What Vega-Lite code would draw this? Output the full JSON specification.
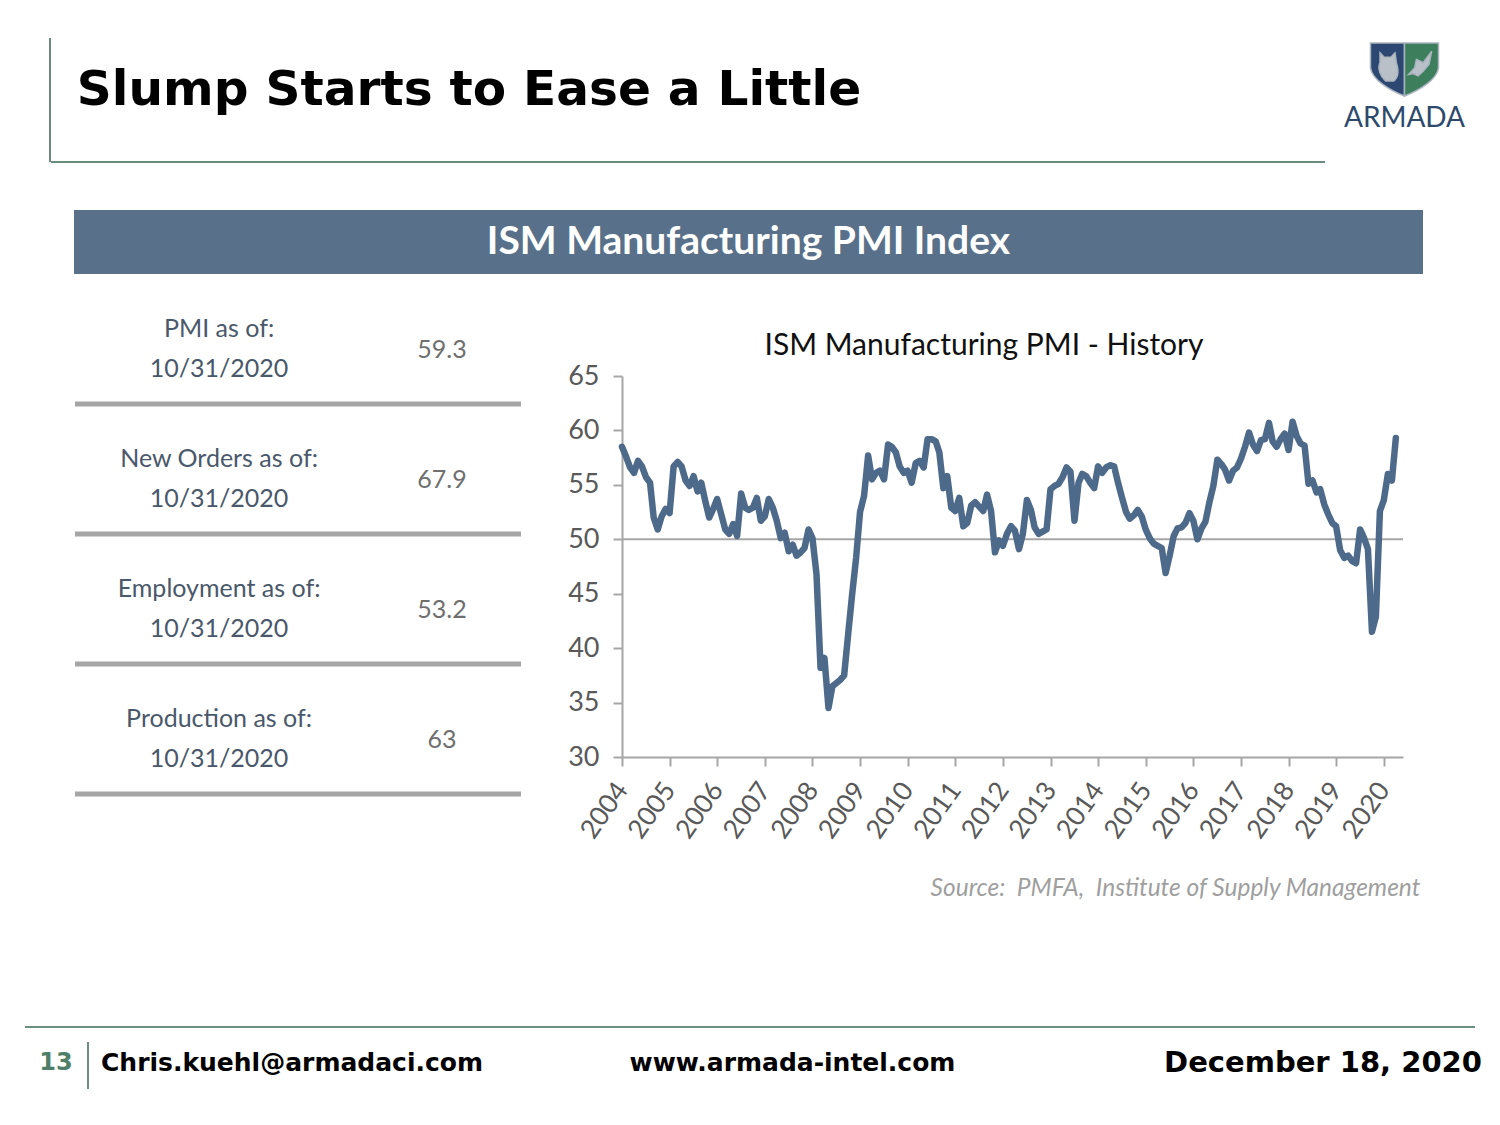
{
  "$schema": "https://vega.github.io/schema/vega-lite/v6.json",
  "background": "white",
  "padding": 0,
  "spacing": 0,
  "config": {"view": {"stroke": null}, "concat": {"spacing": 0}, "font": "Lato"},
  "datasets": {
    "table": [
      {"row": 1, "label": "PMI as of:", "asof": "10/31/2020", "value": "59.3"},
      {"row": 2, "label": "New Orders as of:", "asof": "10/31/2020", "value": "67.9"},
      {"row": 3, "label": "Employment as of:", "asof": "10/31/2020", "value": "53.2"},
      {"row": 4, "label": "Production as of:", "asof": "10/31/2020", "value": "63"}
    ],
    "pmi": [
      {"date": "2004-07-01", "pmi": 58.5}, {"date": "2004-08-01", "pmi": 57.6}, {"date": "2004-09-01", "pmi": 56.6}, {"date": "2004-10-01", "pmi": 56.1}, {"date": "2004-11-01", "pmi": 57.2}, {"date": "2004-12-01", "pmi": 56.7},
      {"date": "2005-01-01", "pmi": 55.7}, {"date": "2005-02-01", "pmi": 55.2}, {"date": "2005-03-01", "pmi": 52.0}, {"date": "2005-04-01", "pmi": 50.9}, {"date": "2005-05-01", "pmi": 52.1}, {"date": "2005-06-01", "pmi": 52.8}, {"date": "2005-07-01", "pmi": 52.4}, {"date": "2005-08-01", "pmi": 56.7}, {"date": "2005-09-01", "pmi": 57.1}, {"date": "2005-10-01", "pmi": 56.7}, {"date": "2005-11-01", "pmi": 55.4}, {"date": "2005-12-01", "pmi": 54.9},
      {"date": "2006-01-01", "pmi": 55.8}, {"date": "2006-02-01", "pmi": 54.4}, {"date": "2006-03-01", "pmi": 55.2}, {"date": "2006-04-01", "pmi": 53.5}, {"date": "2006-05-01", "pmi": 52.0}, {"date": "2006-06-01", "pmi": 52.8}, {"date": "2006-07-01", "pmi": 53.7}, {"date": "2006-08-01", "pmi": 52.3}, {"date": "2006-09-01", "pmi": 50.9}, {"date": "2006-10-01", "pmi": 50.5}, {"date": "2006-11-01", "pmi": 51.4}, {"date": "2006-12-01", "pmi": 50.3},
      {"date": "2007-01-01", "pmi": 54.2}, {"date": "2007-02-01", "pmi": 52.9}, {"date": "2007-03-01", "pmi": 52.7}, {"date": "2007-04-01", "pmi": 52.9}, {"date": "2007-05-01", "pmi": 53.8}, {"date": "2007-06-01", "pmi": 51.7}, {"date": "2007-07-01", "pmi": 52.1}, {"date": "2007-08-01", "pmi": 53.7}, {"date": "2007-09-01", "pmi": 52.9}, {"date": "2007-10-01", "pmi": 51.7}, {"date": "2007-11-01", "pmi": 50.1}, {"date": "2007-12-01", "pmi": 50.6},
      {"date": "2008-01-01", "pmi": 48.9}, {"date": "2008-02-01", "pmi": 49.5}, {"date": "2008-03-01", "pmi": 48.5}, {"date": "2008-04-01", "pmi": 48.8}, {"date": "2008-05-01", "pmi": 49.2}, {"date": "2008-06-01", "pmi": 50.9}, {"date": "2008-07-01", "pmi": 50.1}, {"date": "2008-08-01", "pmi": 46.8}, {"date": "2008-09-01", "pmi": 38.2}, {"date": "2008-10-01", "pmi": 39.1}, {"date": "2008-11-01", "pmi": 34.5}, {"date": "2008-12-01", "pmi": 36.5},
      {"date": "2009-01-01", "pmi": 36.8}, {"date": "2009-02-01", "pmi": 37.1}, {"date": "2009-03-01", "pmi": 37.5}, {"date": "2009-04-01", "pmi": 41.3}, {"date": "2009-05-01", "pmi": 44.9}, {"date": "2009-06-01", "pmi": 48.3}, {"date": "2009-07-01", "pmi": 52.5}, {"date": "2009-08-01", "pmi": 54.0}, {"date": "2009-09-01", "pmi": 57.7}, {"date": "2009-10-01", "pmi": 55.5}, {"date": "2009-11-01", "pmi": 56.1}, {"date": "2009-12-01", "pmi": 56.3},
      {"date": "2010-01-01", "pmi": 55.5}, {"date": "2010-02-01", "pmi": 58.7}, {"date": "2010-03-01", "pmi": 58.5}, {"date": "2010-04-01", "pmi": 58.0}, {"date": "2010-05-01", "pmi": 56.7}, {"date": "2010-06-01", "pmi": 56.1}, {"date": "2010-07-01", "pmi": 56.3}, {"date": "2010-08-01", "pmi": 55.2}, {"date": "2010-09-01", "pmi": 57.0}, {"date": "2010-10-01", "pmi": 57.2}, {"date": "2010-11-01", "pmi": 56.6}, {"date": "2010-12-01", "pmi": 59.2},
      {"date": "2011-01-01", "pmi": 59.2}, {"date": "2011-02-01", "pmi": 59.0}, {"date": "2011-03-01", "pmi": 58.0}, {"date": "2011-04-01", "pmi": 54.7}, {"date": "2011-05-01", "pmi": 55.8}, {"date": "2011-06-01", "pmi": 52.9}, {"date": "2011-07-01", "pmi": 52.6}, {"date": "2011-08-01", "pmi": 53.8}, {"date": "2011-09-01", "pmi": 51.2}, {"date": "2011-10-01", "pmi": 51.5}, {"date": "2011-11-01", "pmi": 53.1}, {"date": "2011-12-01", "pmi": 53.4},
      {"date": "2012-01-01", "pmi": 53.0}, {"date": "2012-02-01", "pmi": 52.6}, {"date": "2012-03-01", "pmi": 54.1}, {"date": "2012-04-01", "pmi": 52.6}, {"date": "2012-05-01", "pmi": 48.8}, {"date": "2012-06-01", "pmi": 49.9}, {"date": "2012-07-01", "pmi": 49.4}, {"date": "2012-08-01", "pmi": 50.5}, {"date": "2012-09-01", "pmi": 51.2}, {"date": "2012-10-01", "pmi": 50.8}, {"date": "2012-11-01", "pmi": 49.1}, {"date": "2012-12-01", "pmi": 50.5},
      {"date": "2013-01-01", "pmi": 53.6}, {"date": "2013-02-01", "pmi": 52.7}, {"date": "2013-03-01", "pmi": 51.1}, {"date": "2013-04-01", "pmi": 50.5}, {"date": "2013-05-01", "pmi": 50.7}, {"date": "2013-06-01", "pmi": 50.9}, {"date": "2013-07-01", "pmi": 54.6}, {"date": "2013-08-01", "pmi": 54.9}, {"date": "2013-09-01", "pmi": 55.1}, {"date": "2013-10-01", "pmi": 55.7}, {"date": "2013-11-01", "pmi": 56.6}, {"date": "2013-12-01", "pmi": 56.2},
      {"date": "2014-01-01", "pmi": 51.7}, {"date": "2014-02-01", "pmi": 55.2}, {"date": "2014-03-01", "pmi": 56.0}, {"date": "2014-04-01", "pmi": 55.8}, {"date": "2014-05-01", "pmi": 55.2}, {"date": "2014-06-01", "pmi": 54.7}, {"date": "2014-07-01", "pmi": 56.7}, {"date": "2014-08-01", "pmi": 56.1}, {"date": "2014-09-01", "pmi": 56.6}, {"date": "2014-10-01", "pmi": 56.8}, {"date": "2014-11-01", "pmi": 56.7}, {"date": "2014-12-01", "pmi": 55.2},
      {"date": "2015-01-01", "pmi": 53.8}, {"date": "2015-02-01", "pmi": 52.5}, {"date": "2015-03-01", "pmi": 51.9}, {"date": "2015-04-01", "pmi": 52.2}, {"date": "2015-05-01", "pmi": 52.7}, {"date": "2015-06-01", "pmi": 52.1}, {"date": "2015-07-01", "pmi": 50.9}, {"date": "2015-08-01", "pmi": 50.1}, {"date": "2015-09-01", "pmi": 49.6}, {"date": "2015-10-01", "pmi": 49.4}, {"date": "2015-11-01", "pmi": 49.2}, {"date": "2015-12-01", "pmi": 46.9},
      {"date": "2016-01-01", "pmi": 48.5}, {"date": "2016-02-01", "pmi": 50.3}, {"date": "2016-03-01", "pmi": 51.0}, {"date": "2016-04-01", "pmi": 51.1}, {"date": "2016-05-01", "pmi": 51.5}, {"date": "2016-06-01", "pmi": 52.4}, {"date": "2016-07-01", "pmi": 51.7}, {"date": "2016-08-01", "pmi": 50.0}, {"date": "2016-09-01", "pmi": 51.0}, {"date": "2016-10-01", "pmi": 51.6}, {"date": "2016-11-01", "pmi": 53.4}, {"date": "2016-12-01", "pmi": 54.9},
      {"date": "2017-01-01", "pmi": 57.3}, {"date": "2017-02-01", "pmi": 56.9}, {"date": "2017-03-01", "pmi": 56.4}, {"date": "2017-04-01", "pmi": 55.4}, {"date": "2017-05-01", "pmi": 56.3}, {"date": "2017-06-01", "pmi": 56.6}, {"date": "2017-07-01", "pmi": 57.4}, {"date": "2017-08-01", "pmi": 58.5}, {"date": "2017-09-01", "pmi": 59.8}, {"date": "2017-10-01", "pmi": 58.7}, {"date": "2017-11-01", "pmi": 58.1}, {"date": "2017-12-01", "pmi": 59.1},
      {"date": "2018-01-01", "pmi": 59.2}, {"date": "2018-02-01", "pmi": 60.7}, {"date": "2018-03-01", "pmi": 59.0}, {"date": "2018-04-01", "pmi": 58.5}, {"date": "2018-05-01", "pmi": 59.2}, {"date": "2018-06-01", "pmi": 59.7}, {"date": "2018-07-01", "pmi": 58.2}, {"date": "2018-08-01", "pmi": 60.8}, {"date": "2018-09-01", "pmi": 59.5}, {"date": "2018-10-01", "pmi": 58.8}, {"date": "2018-11-01", "pmi": 58.6}, {"date": "2018-12-01", "pmi": 55.1},
      {"date": "2019-01-01", "pmi": 55.4}, {"date": "2019-02-01", "pmi": 54.3}, {"date": "2019-03-01", "pmi": 54.6}, {"date": "2019-04-01", "pmi": 53.2}, {"date": "2019-05-01", "pmi": 52.3}, {"date": "2019-06-01", "pmi": 51.5}, {"date": "2019-07-01", "pmi": 51.2}, {"date": "2019-08-01", "pmi": 49.0}, {"date": "2019-09-01", "pmi": 48.3}, {"date": "2019-10-01", "pmi": 48.5}, {"date": "2019-11-01", "pmi": 48.0}, {"date": "2019-12-01", "pmi": 47.8},
      {"date": "2020-01-01", "pmi": 50.9}, {"date": "2020-02-01", "pmi": 50.1}, {"date": "2020-03-01", "pmi": 49.1}, {"date": "2020-04-01", "pmi": 41.5}, {"date": "2020-05-01", "pmi": 42.9}, {"date": "2020-06-01", "pmi": 52.6}, {"date": "2020-07-01", "pmi": 53.6}, {"date": "2020-08-01", "pmi": 56.0}, {"date": "2020-09-01", "pmi": 55.4}, {"date": "2020-10-01", "pmi": 59.3}
    ]
  },
  "vconcat": [
    {
      "hconcat": [
        {"width": 49, "height": 1, "data": {"values": [{}]}, "mark": {"type": "point", "opacity": 0, "size": 0, "filled": true, "strokeWidth": 0}},
        {
          "vconcat": [
            {"width": 2, "height": 38, "data": {"values": [{}]}, "mark": {"type": "point", "opacity": 0, "size": 0, "filled": true, "strokeWidth": 0}},
            {"width": 2, "height": 124, "data": {"values": [{}]}, "mark": {"type": "point", "opacity": 0, "size": 0, "filled": true, "strokeWidth": 0}, "view": {"fill": "#6b8c7c"}}
          ]
        },
        {
          "vconcat": [
            {"width": 1, "height": 66, "data": {"values": [{}]}, "mark": {"type": "point", "opacity": 0, "size": 0, "filled": true, "strokeWidth": 0}},
            {"width": 836, "height": 48, "data": {"values": [{"t": "Slump Starts to Ease a Little"}]}, "mark": {"type": "text", "font": "DejaVu Sans", "fontWeight": "bold", "fontSize": 48.6, "color": "#000000"}, "encoding": {"text": {"field": "t"}}},
            {"width": 1, "height": 46, "data": {"values": [{}]}, "mark": {"type": "point", "opacity": 0, "size": 0, "filled": true, "strokeWidth": 0}},
            {"width": 1274, "height": 2, "data": {"values": [{}]}, "mark": {"type": "point", "opacity": 0, "size": 0, "filled": true, "strokeWidth": 0}, "view": {"fill": "#6b8c7c"}}
          ]
        },
        {"width": 18, "height": 1, "data": {"values": [{}]}, "mark": {"type": "point", "opacity": 0, "size": 0, "filled": true, "strokeWidth": 0}},
        {
          "vconcat": [
            {"width": 1, "height": 39, "data": {"values": [{}]}, "mark": {"type": "point", "opacity": 0, "size": 0, "filled": true, "strokeWidth": 0}},
            {
              "width": 123, "height": 53,
              "data": {"values": [{"part": "L"}, {"part": "R"}, {"part": "owl"}, {"part": "eagle"}]},
              "mark": {"type": "point", "filled": true, "opacity": 1, "size": 4624, "stroke": "#aab4be", "strokeWidth": 1.5},
              "encoding": {
                "shape": {"field": "part", "type": "nominal", "legend": null, "scale": {"domain": ["L", "R", "owl", "eagle"], "range": [
                  "M -1 -0.78 L 0 -0.78 L 0 0.78 C -0.45 0.6 -0.95 0.3 -1 -0.05 Z",
                  "M 1 -0.78 L 0 -0.78 L 0 0.78 C 0.45 0.6 0.95 0.3 1 -0.05 Z",
                  "M -0.72 -0.49 L -0.6 -0.36 L -0.4 -0.36 L -0.28 -0.49 L -0.24 -0.2 C -0.16 0.05 -0.2 0.25 -0.32 0.34 L -0.55 0.34 C -0.72 0.2 -0.8 -0.05 -0.72 -0.2 Z",
                  "M 0.12 0.15 L 0.3 -0.05 L 0.35 -0.3 L 0.55 -0.2 L 0.8 -0.54 L 0.72 -0.15 L 0.55 0.05 L 0.4 0.19 L 0.25 0.12 Z"
                ]}},
                "fill": {"field": "part", "type": "nominal", "legend": null, "scale": {"domain": ["L", "R", "owl", "eagle"], "range": ["#2c4872", "#3d7e5c", "#b9c0c8", "#b9c0c8"]}}
              }
            },
            {"width": 1, "height": 2, "data": {"values": [{}]}, "mark": {"type": "point", "opacity": 0, "size": 0, "filled": true, "strokeWidth": 0}},
            {"width": 123, "height": 34, "data": {"values": [{"t": "ARMADA"}]}, "mark": {"type": "text", "font": "Lato", "fontSize": 28, "color": "#2d4a6d"}, "encoding": {"text": {"field": "t"}}}
          ]
        }
      ]
    },
    {"width": 1, "height": 47, "data": {"values": [{}]}, "mark": {"type": "point", "opacity": 0, "size": 0, "filled": true, "strokeWidth": 0}},
    {
      "hconcat": [
        {"width": 74, "height": 1, "data": {"values": [{}]}, "mark": {"type": "point", "opacity": 0, "size": 0, "filled": true, "strokeWidth": 0}},
        {"width": 1349, "height": 64, "view": {"fill": "#587089"}, "data": {"values": [{"t": "ISM Manufacturing PMI Index"}]}, "mark": {"type": "text", "font": "Lato", "fontSize": 39, "fontWeight": "bold", "color": "#ffffff"}, "encoding": {"text": {"field": "t"}}}
      ]
    },
    {
      "hconcat": [
        {"width": 71.5, "height": 1, "data": {"values": [{}]}, "mark": {"type": "point", "opacity": 0, "size": 0, "filled": true, "strokeWidth": 0}},
        {
          "width": 446, "height": 520,
          "data": {"name": "table"},
          "layer": [
            {"mark": {"type": "text", "font": "Lato", "fontSize": 25, "color": "#4a586b"}, "encoding": {"x": {"datum": "label", "type": "nominal", "axis": null, "scale": {"type": "point", "domain": ["label", "value"], "padding": 0.5, "align": 0.646}}, "y": {"field": "row", "type": "ordinal", "bandPosition": 0.423, "axis": null, "scale": {"type": "band", "paddingInner": 0, "paddingOuter": 0}}, "text": {"field": "label"}}},
            {"mark": {"type": "text", "font": "Lato", "fontSize": 25, "color": "#4a586b"}, "encoding": {"x": {"datum": "label", "type": "nominal", "axis": null}, "y": {"field": "row", "type": "ordinal", "bandPosition": 0.731, "axis": null}, "text": {"field": "asof"}}},
            {"mark": {"type": "text", "font": "Lato", "fontSize": 25, "color": "#6f6f6f"}, "encoding": {"x": {"datum": "value", "type": "nominal", "axis": null}, "y": {"field": "row", "type": "ordinal", "bandPosition": 0.585, "axis": null}, "text": {"field": "value"}}},
            {"mark": {"type": "rule", "color": "#a6a6a6", "strokeWidth": 5}, "encoding": {"y": {"field": "row", "type": "ordinal", "bandPosition": 1, "axis": null}}}
          ]
        },
        {"width": 43, "height": 1, "data": {"values": [{}]}, "mark": {"type": "point", "opacity": 0, "size": 0, "filled": true, "strokeWidth": 0}},
        {
          "vconcat": [
            {"width": 1, "height": 56, "data": {"values": [{}]}, "mark": {"type": "point", "opacity": 0, "size": 0, "filled": true, "strokeWidth": 0}},
            {"width": 724, "height": 32, "data": {"values": [{"t": "ISM Manufacturing PMI - History"}]}, "mark": {"type": "text", "font": "Lato", "fontSize": 30, "color": "#111111"}, "encoding": {"text": {"field": "t"}}},
            {
              "width": 781, "height": 381,
              "layer": [
                {"data": {"values": [{}]}, "mark": {"type": "rule", "color": "#a6a6a6", "strokeWidth": 2}, "encoding": {"y": {"datum": 50, "type": "quantitative"}}},
                {
                  "data": {"name": "pmi"},
                  "mark": {"type": "line", "color": "#4e6a8b", "strokeWidth": 6.5, "strokeJoin": "round", "strokeCap": "round"},
                  "encoding": {
                    "x": {
                      "field": "date", "type": "temporal",
                      "scale": {"type": "utc", "domain": [{"year": 2004, "month": 7, "date": 1, "utc": true}, {"year": 2020, "month": 11, "date": 25, "utc": true}]},
                      "axis": {
                        "title": null, "format": "%Y", "grid": false,
                        "values": [
                          {"year": 2004, "month": 7, "date": 1, "utc": true}, {"year": 2005, "month": 7, "date": 1, "utc": true}, {"year": 2006, "month": 7, "date": 1, "utc": true}, {"year": 2007, "month": 7, "date": 1, "utc": true}, {"year": 2008, "month": 7, "date": 1, "utc": true}, {"year": 2009, "month": 7, "date": 1, "utc": true}, {"year": 2010, "month": 7, "date": 1, "utc": true}, {"year": 2011, "month": 7, "date": 1, "utc": true}, {"year": 2012, "month": 7, "date": 1, "utc": true}, {"year": 2013, "month": 7, "date": 1, "utc": true}, {"year": 2014, "month": 7, "date": 1, "utc": true}, {"year": 2015, "month": 7, "date": 1, "utc": true}, {"year": 2016, "month": 7, "date": 1, "utc": true}, {"year": 2017, "month": 7, "date": 1, "utc": true}, {"year": 2018, "month": 7, "date": 1, "utc": true}, {"year": 2019, "month": 7, "date": 1, "utc": true}, {"year": 2020, "month": 7, "date": 1, "utc": true}
                        ],
                        "domainColor": "#a6a6a6", "domainWidth": 2, "tickColor": "#a6a6a6", "tickWidth": 2, "tickSize": 9,
                        "labelFont": "Lato", "labelFontSize": 26.5, "labelColor": "#595959", "labelAngle": -55, "labelAlign": "right", "labelBaseline": "middle", "labelPadding": 19,
                        "labelOverlap": false, "labelFlush": false, "labelBound": false
                      }
                    },
                    "y": {
                      "field": "pmi", "type": "quantitative",
                      "scale": {"domain": [30, 65], "nice": false, "zero": false},
                      "axis": {
                        "title": null, "grid": false, "values": [30, 35, 40, 45, 50, 55, 60, 65],
                        "domainColor": "#a6a6a6", "domainWidth": 2, "tickColor": "#a6a6a6", "tickWidth": 2, "tickSize": 9,
                        "labelFont": "Lato", "labelFontSize": 27, "labelColor": "#595959", "labelPadding": 14,
                        "labelOverlap": false, "labelFlush": false, "labelBound": false
                      }
                    }
                  }
                }
              ]
            },
            {"width": 1, "height": 25, "data": {"values": [{}]}, "mark": {"type": "point", "opacity": 0, "size": 0, "filled": true, "strokeWidth": 0}},
            {
              "hconcat": [
                {"width": 308, "height": 1, "data": {"values": [{}]}, "mark": {"type": "point", "opacity": 0, "size": 0, "filled": true, "strokeWidth": 0}},
                {"width": 487, "height": 40, "data": {"values": [{"t": "Source:\u00a0 PMFA,\u00a0 Institute of Supply Management"}]}, "mark": {"type": "text", "font": "Lato", "fontSize": 24.5, "fontStyle": "italic", "color": "#9f9f9f"}, "encoding": {"text": {"field": "t"}}}
              ]
            }
          ]
        }
      ]
    },
    {"width": 1, "height": 117, "data": {"values": [{}]}, "mark": {"type": "point", "opacity": 0, "size": 0, "filled": true, "strokeWidth": 0}},
    {
      "hconcat": [
        {"width": 25, "height": 1, "data": {"values": [{}]}, "mark": {"type": "point", "opacity": 0, "size": 0, "filled": true, "strokeWidth": 0}},
        {"width": 1450, "height": 2, "data": {"values": [{}]}, "mark": {"type": "point", "opacity": 0, "size": 0, "filled": true, "strokeWidth": 0}, "view": {"fill": "#6a9080"}}
      ]
    },
    {
      "hconcat": [
        {"width": 25, "height": 1, "data": {"values": [{}]}, "mark": {"type": "point", "opacity": 0, "size": 0, "filled": true, "strokeWidth": 0}},
        {"width": 62, "height": 70, "data": {"values": [{"t": "13"}]}, "mark": {"type": "text", "font": "DejaVu Sans", "fontWeight": "bold", "fontSize": 24, "color": "#4f7f68"}, "encoding": {"text": {"field": "t"}}},
        {
          "vconcat": [
            {"width": 2, "height": 14, "data": {"values": [{}]}, "mark": {"type": "point", "opacity": 0, "size": 0, "filled": true, "strokeWidth": 0}},
            {"width": 2, "height": 47, "data": {"values": [{}]}, "mark": {"type": "point", "opacity": 0, "size": 0, "filled": true, "strokeWidth": 0}, "view": {"fill": "#6a9080"}}
          ]
        },
        {"width": 406, "height": 70, "data": {"values": [{"t": "Chris.kuehl@armadaci.com"}]}, "mark": {"type": "text", "font": "DejaVu Sans", "fontWeight": "bold", "fontSize": 25, "color": "#000000"}, "encoding": {"text": {"field": "t"}}},
        {"width": 595, "height": 70, "data": {"values": [{"t": "www.armada-intel.com"}]}, "mark": {"type": "text", "font": "DejaVu Sans", "fontWeight": "bold", "fontSize": 25, "color": "#000000"}, "encoding": {"text": {"field": "t"}}},
        {"width": 58, "height": 1, "data": {"values": [{}]}, "mark": {"type": "point", "opacity": 0, "size": 0, "filled": true, "strokeWidth": 0}},
        {"width": 350, "height": 70, "data": {"values": [{"t": "December 18, 2020"}]}, "mark": {"type": "text", "font": "DejaVu Sans", "fontWeight": "bold", "fontSize": 29, "color": "#000000"}, "encoding": {"text": {"field": "t"}}}
      ]
    }
  ]
}
